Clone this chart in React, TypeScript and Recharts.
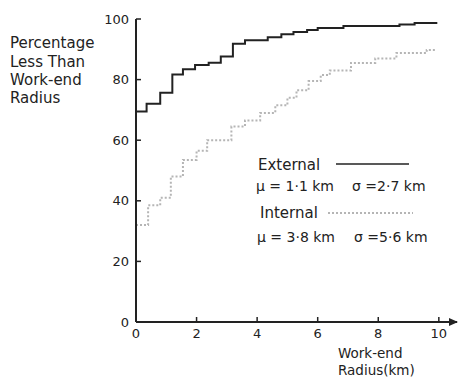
import React from "react";
import { LineChart, Line, XAxis, YAxis, ReferenceDot } from "recharts";

// External work-end radius distribution (km -> cumulative %)
const extKm = [0, 0.35, 0.8, 1.2, 1.55, 1.95, 2.4, 2.8, 3.2, 3.6, 4.35, 4.8, 5.2, 5.65, 6.0, 6.85, 8.7, 9.2, 9.95];
const extPct = [69.5, 72, 75.7, 81.7, 83.4, 84.8, 85.6, 87.6, 91.8, 93, 94, 95, 95.7, 96.4, 97, 97.7, 98.2, 98.7, 98.7];

// Internal work-end radius distribution
const intKm = [0, 0.4, 0.8, 1.15, 1.55, 2.0, 2.35, 3.15, 3.6, 4.1, 4.6, 5.0, 5.3, 5.7, 6.1, 6.4, 7.1, 7.9, 8.6, 9.6, 9.9];
const intPct = [32, 38.5, 41, 48, 53.5, 56.5, 60, 64.5, 66.5, 69, 71.5, 74, 76.5, 79.5, 81.5, 83, 85.5, 87, 88.8, 89.8, 90];

const xTicks = [0, 2, 4, 6, 8, 10];
const yTicks = [0, 20, 40, 60, 80, 100];

const externalData = extKm.map((km, i) => ({ km, pct: extPct[i] }));
const internalData = intKm.map((km, i) => ({ km, pct: intPct[i] }));

const FONT = "DejaVu Sans";
const INK = "#222";

const YTick = (props: any) => {
    const { x, y, payload } = props;
    return (
        <g>
            <text x={x} y={y} textAnchor="end" dominantBaseline="central" fontSize={13} fontFamily={FONT} fill={INK}>
                {payload.value}
            </text>
            {payload.value !== 0 && <line x1={x + 7} x2={x + 12} y1={y} y2={y} stroke={INK} strokeWidth={1.5} />}
        </g>
    );
};

const XTick = (props: any) => {
    const { x, y, payload } = props;
    return (
        <g>
            <text x={x} y={y} textAnchor="middle" dominantBaseline="hanging" fontSize={13} fontFamily={FONT} fill={INK}>
                {payload.value}
            </text>
            {payload.value !== 0 && <line x1={x} x2={x} y1={y - 6} y2={y - 11} stroke={INK} strokeWidth={1.5} />}
        </g>
    );
};

export default function App() {
    return (
        <div style={{ position: "absolute", left: 0, top: 0, width: 461, height: 380, background: "#fff" }}>
            <LineChart width={461} height={380} margin={{ top: 19, right: 4, left: 0, bottom: 0 }}>
                <XAxis
                    dataKey="km"
                    type="number"
                    domain={[0, 10.6]}
                    ticks={xTicks}
                    tickSize={0}
                    tickMargin={6}
                    tick={<XTick />}
                    height={58}
                    axisLine={{ stroke: INK, strokeWidth: 2 }}
                />
                <YAxis
                    type="number"
                    domain={[0, 100]}
                    ticks={yTicks}
                    tickSize={0}
                    tickMargin={7}
                    tick={<YTick />}
                    width={136}
                    axisLine={{ stroke: INK, strokeWidth: 2 }}
                />
                <Line
                    data={internalData}
                    dataKey="pct"
                    type="stepAfter"
                    stroke="#b5b5b5"
                    strokeWidth={2}
                    strokeDasharray="2 2"
                    dot={false}
                    isAnimationActive={false}
                />
                <Line
                    data={externalData}
                    dataKey="pct"
                    type="stepAfter"
                    stroke={INK}
                    strokeWidth={2}
                    dot={false}
                    isAnimationActive={false}
                />
                <ReferenceDot
                    x={10.6}
                    y={0}
                    ifOverflow="visible"
                    shape={(p: any) => <path d={`M${p.cx + 1},${p.cy} l-9,-4 l0,8 z`} fill={INK} />}
                />
            </LineChart>
            <svg width={461} height={380} style={{ position: "absolute", left: 0, top: 0, pointerEvents: "none" }}>
                <g fontFamily={FONT} fill={INK} fontSize={15}>
                    <text x={10} y={48}>Percentage</text>
                    <text x={10} y={67}>Less Than</text>
                    <text x={10} y={85}>Work-end</text>
                    <text x={10} y={103}>Radius</text>

                    <text x={338} y={358} fontSize={13.5}>Work-end</text>
                    <text x={338} y={375} fontSize={13.5}>Radius(km)</text>

                    <text x={258} y={170}>External</text>
                    <text x={256} y={191} fontSize={14}>μ = 1·1 km</text>
                    <text x={352} y={191} fontSize={14}>σ =2·7 km</text>
                    <text x={260} y={218}>Internal</text>
                    <text x={257} y={242} fontSize={14}>μ = 3·8 km</text>
                    <text x={354} y={242} fontSize={14}>σ =5·6 km</text>
                </g>
                <line x1={336} x2={409} y1={164} y2={164} stroke={INK} strokeWidth={1.5} />
                <line x1={328} x2={413} y1={213} y2={213} stroke="#b5b5b5" strokeWidth={2} strokeDasharray="2 2" />
            </svg>
        </div>
    );
}
